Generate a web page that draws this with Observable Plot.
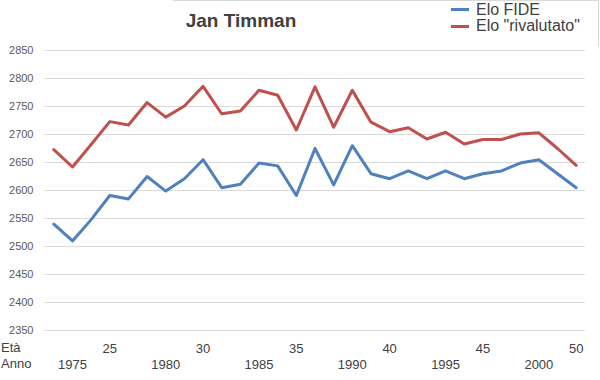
<!DOCTYPE html>
<html>
<head>
<meta charset="utf-8">
<script src="https://cdn.jsdelivr.net/npm/d3@7"></script>
<script src="https://cdn.jsdelivr.net/npm/@observablehq/plot@0.6"></script>
<style>
  html, body { margin: 0; padding: 0; background: #fff; }
  body { width: 600px; height: 380px; position: relative; overflow: hidden; font-family: "Liberation Sans", Arial, sans-serif; }
  #chart { position: absolute; left: 0; top: 0; }
  .ov { position: absolute; white-space: nowrap; color: #404040; }
</style>
</head>
<body>
<div id="chart"></div>
<div class="ov" style="left:173px;top:0;width:425px;height:46px;border-top:1px solid #d9d9d9;border-right:1px solid #d9d9d9;"></div>
<div class="ov" id="title" style="left:141px;width:200px;text-align:center;top:10px;font-size:19px;font-weight:bold;">Jan Timman</div>
<div class="ov" style="left:451px;top:8px;width:18px;height:3px;background:#4F81BD;"></div>
<div class="ov" style="left:476px;top:1px;font-size:16px;">Elo FIDE</div>
<div class="ov" style="left:451px;top:25px;width:18px;height:3px;background:#C0504D;"></div>
<div class="ov" style="left:476px;top:17px;font-size:16px;">Elo "rivalutato"</div>
<div class="ov" style="left:1px;top:340px;font-size:13px;">Età</div>
<div class="ov" style="left:1px;top:356px;font-size:13px;">Anno</div>
<script>
const years = [1974,1975,1976,1977,1978,1979,1980,1981,1982,1983,1984,1985,1986,1987,1988,1989,1990,1991,1992,1993,1994,1995,1996,1997,1998,1999,2000,2001,2002];
const eloFide = [2540,2510,2548,2591,2585,2625,2599,2621,2655,2605,2611,2649,2644,2591,2675,2610,2680,2630,2621,2635,2621,2635,2621,2630,2635,2649,2655,2630,2605];
const eloRival = [2673,2642,2682,2723,2717,2757,2731,2751,2786,2737,2742,2779,2770,2708,2785,2713,2779,2722,2705,2712,2692,2704,2683,2691,2691,2701,2703,2675,2645];
const ageTicks = [25,30,35,40,45,50];
const ageTickYears = [1977,1982,1987,1992,1997,2002];
const yearTicks = [1975,1980,1985,1990,1995,2000];
const yTicks = [2350,2400,2450,2500,2550,2600,2650,2700,2750,2800,2850];

const rows = [
  ...years.map((y, i) => ({year: y, value: eloFide[i], series: "Elo FIDE"})),
  ...years.map((y, i) => ({year: y, value: eloRival[i], series: "Elo \"rivalutato\""}))
];

const chart = Plot.plot({
  width: 600,
  height: 380,
  marginTop: 50,
  marginBottom: 50,
  marginLeft: 44,
  marginRight: 15,
  style: {fontFamily: "'Liberation Sans', Arial, sans-serif", background: "transparent"},
  x: {domain: [years[0] - 0.5, years[years.length - 1] + 0.5]},
  y: {domain: [yTicks[0], yTicks[yTicks.length - 1]]},
  color: {domain: ["Elo FIDE", "Elo \"rivalutato\""], range: ["#4F81BD", "#C0504D"]},
  marks: [
    Plot.ruleY(yTicks, {stroke: "#d9d9d9", strokeWidth: 1}),
    Plot.axisY(yTicks, {tickSize: 0, tickPadding: 11, fontSize: 11, fill: "#595959", label: null, tickFormat: (d) => String(d)}),
    Plot.axisX(ageTickYears, {tickSize: 0, tickPadding: 13, fontSize: 13, fill: "#404040", label: null,
      tickFormat: (d) => String(ageTicks[ageTickYears.indexOf(d)])}),
    Plot.axisX(yearTicks, {tickSize: 0, tickPadding: 29, fontSize: 13, fill: "#404040", label: null, tickFormat: (d) => String(d)}),
    Plot.line(rows, {x: "year", y: "value", z: "series", stroke: "series", strokeWidth: 3, strokeLinejoin: "round", strokeLinecap: "round"})
  ]
});
document.getElementById("chart").appendChild(chart);
</script>
</body>
</html>
